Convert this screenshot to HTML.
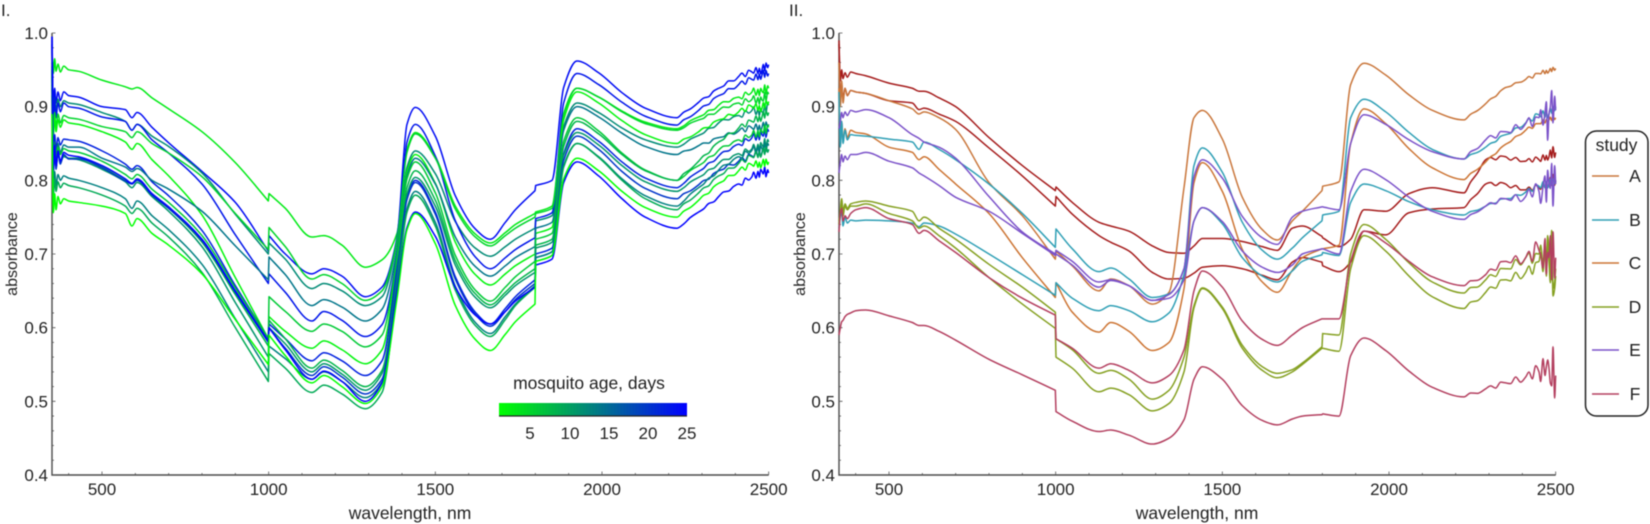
<!DOCTYPE html>
<html lang="en">
<head>
<meta charset="utf-8">
<title>Absorbance spectra by mosquito age and study</title>
<style>
html,body{margin:0;padding:0;background:#fff;}
body{width:1650px;height:524px;overflow:hidden;}
#figure{display:block;filter:blur(0.45px);}
text{font-family:"Liberation Sans",sans-serif;font-size:17px;fill:#222;}
.title{font-size:17.5px;}
.ytitle{font-size:16px;}
</style>
</head>
<body>
<svg id="figure" xmlns="http://www.w3.org/2000/svg" width="1650" height="524" viewBox="0 0 1650 524">
  <defs>
    <linearGradient id="ageGradient" x1="0" y1="0" x2="1" y2="0">
      <stop offset="0" stop-color="#00ff00"/>
      <stop offset="1" stop-color="#0000ff"/>
    </linearGradient>
  </defs>
  <text x="1" y="16">I.</text>
  <text x="789" y="16">II.</text>
  <g id="panelOne"></g>
  <g id="panelTwo"></g>
  <text class="ytitle" transform="translate(17,254) rotate(-90)" text-anchor="middle">absorbance</text>
  <text class="ytitle" transform="translate(805,254) rotate(-90)" text-anchor="middle">absorbance</text>
  <text class="title" x="410" y="519" text-anchor="middle">wavelength, nm</text>
  <text class="title" x="1197" y="519" text-anchor="middle">wavelength, nm</text>
  <g>
    <text class="title" x="589" y="389" text-anchor="middle">mosquito age, days</text>
    <rect x="499" y="403" width="188" height="13" fill="url(#ageGradient)"/>
    <line x1="499" y1="416" x2="687" y2="416" stroke="#222" stroke-width="1.2"/>
    <text x="530" y="439" text-anchor="middle">5</text>
    <text x="570" y="439" text-anchor="middle">10</text>
    <text x="609" y="439" text-anchor="middle">15</text>
    <text x="648" y="439" text-anchor="middle">20</text>
    <text x="687" y="439" text-anchor="middle">25</text>
  </g>
  <g>
    <rect x="1585.5" y="131" width="62.5" height="285" rx="11" ry="11" fill="#fff" stroke="#222" stroke-width="1.5"/>
    <text class="title" x="1616.5" y="151" text-anchor="middle">study</text>
    <line x1="1592" y1="176" x2="1619" y2="176" stroke="#c9763b" stroke-width="1.4"/>
    <text class="title" x="1635" y="182" text-anchor="middle">A</text>
    <line x1="1592" y1="220" x2="1619" y2="220" stroke="#2f9fb5" stroke-width="1.4"/>
    <text class="title" x="1635" y="226" text-anchor="middle">B</text>
    <line x1="1592" y1="263" x2="1619" y2="263" stroke="#cc7433" stroke-width="1.4"/>
    <text class="title" x="1635" y="269" text-anchor="middle">C</text>
    <line x1="1592" y1="307" x2="1619" y2="307" stroke="#85a021" stroke-width="1.4"/>
    <text class="title" x="1635" y="313" text-anchor="middle">D</text>
    <line x1="1592" y1="350" x2="1619" y2="350" stroke="#7b52c9" stroke-width="1.4"/>
    <text class="title" x="1635" y="356" text-anchor="middle">E</text>
    <line x1="1592" y1="394" x2="1619" y2="394" stroke="#b33f5f" stroke-width="1.4"/>
    <text class="title" x="1635" y="400" text-anchor="middle">F</text>
  </g>
</svg>
<script>
// Axis categories and tick labels
const wavelengths = [350,354,358,362,368,375,385,400, 430,500,570,590,605,650,700,800,900,999, 1001,1050,1130,1165,1220,1290,1340,1385,1415,1440, 1500,1560,1620,1665,1710,1740,1799,1801,1850,1885, 1925,1990,2060,2130,2225,2290,2350,2410,2450,2480,2500];
const tailWavelengths = [2245,2265,2305,2320,2335,2365,2380,2395,2420,2430,2440,2455,2462,2468,2472,2476,2484,2488,2492,2497];
const xTickLabels = [500,1000,1500,2000,2500];
const yTickLabels = ["0.4","0.5","0.6","0.7","0.8","0.9","1.0"];

// Panel I: absorbance x 1000 at each wavelength
const ageSpectrum1 = [975,945,965,948,958,947,955,950, 948,936,927,924,926,912,897,866,824,772, 782,762,723,725,712,682,692,728,842,865, 832,765,727,715,729,740,755,757,765,891, 925,913,894,879,870,886,902,913,920,921,925];
const ageSpectrum2 = [995,900,925,905,920,908,920,915, 913,900,896,885,892,872,851,812,770,704, 725,700,673,680,670,642,655,722,876,899, 860,779,734,720,743,760,786,793,800,926, 962,946,919,898,885,906,925,941,947,950,957];
const ageSpectrum3 = [960,890,912,895,910,900,908,905, 903,892,880,868,876,860,846,810,754,700, 715,693,653,660,650,630,642,715,818,840, 809,744,708,697,710,720,735,745,752,873, 905,892,871,855,845,861,878,888,895,893,902];
const ageSpectrum4 = [985,880,912,885,905,893,905,900, 898,886,880,868,876,855,837,795,726,660, 673,648,609,622,610,588,604,700,852,876, 833,745,696,680,695,706,722,748,756,905, 945,930,906,887,875,895,915,930,937,943,945];
const ageSpectrum5 = [940,868,892,872,890,878,888,885, 883,873,866,858,866,850,837,805,755,706, 736,710,666,672,660,637,650,718,838,863, 830,761,723,711,725,735,750,755,762,889, 925,913,893,877,868,882,895,905,910,909,917];
const ageSpectrum6 = [930,862,886,866,882,872,882,878, 876,866,852,842,850,828,806,753,668,585, 615,595,572,582,570,551,570,690,812,835, 796,716,672,658,673,684,700,728,736,882, 920,905,881,862,850,866,882,893,900,898,907];
const ageSpectrum7 = [985,838,862,842,858,848,856,855, 853,840,822,815,820,798,779,732,657,585, 605,585,555,566,555,535,555,680,778,800, 757,669,621,605,626,642,665,700,708,836, 870,853,825,803,790,812,833,849,858,862,866];
const ageSpectrum8 = [955,825,852,832,850,838,848,845, 845,830,818,812,816,800,788,758,711,665, 696,672,630,638,628,609,625,705,806,830, 795,723,683,670,684,695,710,735,743,868, 900,886,864,846,835,847,858,867,871,872,876];
const ageSpectrum9 = [950,822,848,828,845,835,843,840, 838,826,808,802,808,788,770,725,654,585, 642,622,595,605,595,574,590,695,802,825, 783,698,651,636,655,669,690,720,728,853, 885,867,837,814,800,820,841,855,862,866,872];
const ageSpectrum10 = [945,812,838,818,835,825,833,830, 830,818,800,796,800,780,762,716,645,575, 610,585,545,556,542,520,542,670,790,813, 773,691,646,631,648,661,680,712,720,846, 880,863,835,813,800,826,852,871,880,886,892];
const ageSpectrum11 = [950,815,840,818,835,825,832,830, 828,815,798,790,797,778,758,710,634,560, 600,578,540,551,537,515,538,668,781,804, 765,685,641,627,644,657,675,708,716,834, 865,848,820,798,785,804,823,836,843,848,852];
const ageSpectrum12 = [990,810,842,815,838,822,835,829, 829,817,799,795,800,780,762,718,648,580, 600,572,535,547,533,510,530,665,774,797, 754,666,618,602,622,638,660,695,703,827, 860,842,812,789,775,794,813,826,833,838,842];
const ageSpectrum13 = [925,790,812,793,808,800,806,803, 800,790,775,762,772,752,733,686,612,540, 575,558,530,540,527,505,526,660,762,785, 743,656,607,592,615,632,657,695,703,820, 850,832,802,779,765,790,814,832,841,843,847];
const ageSpectrum14 = [915,780,802,785,798,790,796,793, 790,780,765,755,762,742,723,675,600,527, 565,545,512,522,510,490,512,655,757,780, 738,651,603,588,611,630,655,690,698,818, 850,831,800,775,760,783,806,823,832,837,842];
const ageSpectrum15 = [995,815,848,820,840,826,838,834, 832,820,802,796,802,782,764,720,650,582, 600,570,530,541,527,500,525,650,736,757, 724,655,617,605,622,636,655,685,693,797, 825,806,775,750,735,757,778,795,805,812,810];
const ageSpectrum16 = [890,756,782,760,778,768,775,772, 770,765,755,738,748,728,712,673,611,550, 590,562,525,535,520,497,520,640,733,755, 714,630,584,569,591,608,632,690,698,802, 830,813,785,763,750,773,796,813,821,822,825];
const panelOneAges = [3,24,12,23,5,2,22,14,6,8,11,20,13,9,25,1];

// Panel I: fine scatter at the long-wavelength end (x 1000)
const ageTailNoiseA = [1,-1,1,-2,1,-1,2,-2,3,-3,4,-2,5,-4,3,-5,6,-4,5,-3];
const ageTailNoiseB = [-1,1,-1,1,-2,2,-1,1,-4,3,-2,5,-5,3,-6,4,-3,7,-6,4];

// Panel II: absorbance x 1000 at each wavelength
const studySpectrumA1 = [960,900,935,905,925,915,922,920, 918,908,897,890,893,885,869,797,752,693, 704,684,650,666,657,632,648,790,885,895, 856,777,733,719,745,758,786,792,798,930, 959,943,916,895,882,904,926,937,945,948,952];
const studySpectrumC1 = [925,848,880,852,870,858,868,865, 863,845,838,828,832,815,795,755,695,641, 661,621,594,607,595,569,580,653,797,824, 785,706,662,648,678,695,707,707,712,850, 897,877,843,817,801,825,849,868,877,882,885];
const studySpectrumB1 = [920,845,880,850,868,855,862,861, 860,856,852,842,852,842,828,795,755,709, 734,707,676,681,666,641,646,680,820,844, 811,743,705,693,708,722,745,753,758,885, 910,893,865,842,829,845,862,878,889,890,900];
const studySpectrumB2 = [735,750,758,738,750,742,746,745, 746,745,742,737,742,738,727,700,672,644, 661,640,623,630,623,608,620,672,745,763, 741,695,670,662,677,690,699,702,698,770, 795,786,771,760,753,765,775,784,792,795,800];
const studySpectrumE1 = [870,880,892,885,893,888,895,893, 896,885,862,857,852,845,830,778,730,700, 705,690,662,665,657,637,645,680,805,828, 803,751,722,713,750,758,764,764,760,850, 889,876,855,839,829,855,866,877,885,890,895];
const studySpectrumE2 = [810,825,835,825,833,828,835,835, 838,826,817,810,806,793,777,758,728,698, 700,685,655,664,657,637,640,665,745,763, 744,704,682,675,685,700,707,707,700,785, 815,801,777,758,747,765,775,778,785,795,795];
const studySpectrumD1 = [740,760,775,758,768,762,768,770, 772,765,758,745,750,735,720,686,655,621, 585,570,538,542,530,503,515,560,630,654, 628,576,547,538,543,552,574,592,590,700, 740,720,688,662,647,665,680,695,700,700,680];
const studySpectrumD2 = [745,755,770,752,765,760,765,765, 768,755,745,735,738,725,708,668,632,599, 560,545,513,518,509,487,497,540,627,653, 626,572,542,532,540,550,572,572,568,680, 725,704,670,642,626,648,665,675,690,690,670];
const studySpectrumF1 = [730,755,762,745,752,748,755,760, 763,748,740,728,732,718,702,668,640,617, 585,572,545,551,542,525,535,570,650,677, 655,609,584,576,590,600,612,612,612,690, 731,715,690,669,657,672,690,695,705,695,695];
const studySpectrumF2 = [590,600,608,610,615,618,620,623, 624,616,607,603,603,595,583,557,536,515, 486,473,459,461,454,442,450,475,530,547, 530,494,474,468,476,480,482,483,480,562, 586,569,541,519,506,517,525,533,540,545,535];
const studySpectrumR1 = [985,935,950,938,946,940,947,945, 942,932,925,921,921,912,900,858,820,786, 791,770,743,738,731,711,702,701,711,721, 721,717,710,705,735,738,724,722,710,720, 760,758,782,790,783,828,832,826,828,832,838];
const studySpectrumR2 = [990,905,930,910,925,915,922,920, 918,908,905,896,898,890,880,844,806,765, 778,754,725,716,704,675,666,667,674,682, 684,680,671,665,689,695,689,684,676,689, 731,726,756,761,763,795,795,787,790,795,800];

// Panel II: scatter at the long-wavelength end (x 1000)
const tailNoiseQuiet = [1,-1,1,-1,1,-1,1,-1,2,-2,2,-1,3,-2,2,-2,3,-2,3,-2];
const tailNoiseTeal = [1,-1,1,-1,2,-2,1,-2,3,-3,4,-3,5,-4,4,-5,6,-3,4,-4];
const tailNoiseRed = [1,-1,2,-2,2,-3,2,-2,3,-2,4,-3,5,-3,3,-4,8,-4,10,-6];
const tailNoiseE1 = [2,-2,3,-3,3,-4,4,-5,6,-8,3,10,-12,4,18,-35,9,30,-15,20];
const tailNoiseE2 = [1,-1,2,-2,3,-3,4,-6,8,-4,12,-18,2,15,-22,20,-6,28,-30,25];
const tailNoiseD = [2,-3,3,-3,4,-4,5,-6,5,-10,2,12,-14,16,-20,25,-25,40,-35,-20];
const tailNoiseF1 = [2,-2,3,-3,4,-3,5,-7,6,-10,14,-4,-20,22,-25,6,30,-30,35,-28];
const tailNoiseF2 = [2,-2,2,-3,3,-3,4,-5,5,-6,10,-14,16,-8,3,12,-18,-20,35,-32];

const panelOneSpectra = [ageSpectrum1,ageSpectrum2,ageSpectrum3,ageSpectrum4,ageSpectrum5,ageSpectrum6,ageSpectrum7,ageSpectrum8,ageSpectrum9,ageSpectrum10,ageSpectrum11,ageSpectrum12,ageSpectrum13,ageSpectrum14,ageSpectrum15,ageSpectrum16];
const panelTwoSpectra = [studySpectrumR1,studySpectrumR2,studySpectrumA1,studySpectrumC1,studySpectrumB1,studySpectrumB2,studySpectrumE1,studySpectrumE2,studySpectrumD1,studySpectrumD2,studySpectrumF1,studySpectrumF2];
const panelTwoStudies = ["R","R","A","C","B","B","E","E","D","D","F","F"];
const panelTwoNoise = [tailNoiseRed,tailNoiseRed,tailNoiseQuiet,tailNoiseQuiet,tailNoiseTeal,tailNoiseTeal,tailNoiseE1,tailNoiseE2,tailNoiseD,tailNoiseD,tailNoiseF1,tailNoiseF2];

const SVG_NS = "http://www.w3.org/2000/svg";
const studyColors = {A:"#c9763b",B:"#2f9fb5",C:"#cc7433",D:"#85a021",E:"#7b52c9",F:"#b33f5f",R:"#a51c1c"};
const PLOT_TOP = 33, PLOT_BOTTOM = 475, X_SCALE = 1/3;

function xAt(originX, nm){ return originX + (nm - 350) * X_SCALE; }
function yAt(value){ return PLOT_BOTTOM - (value - 0.4) / 0.6 * (PLOT_BOTTOM - PLOT_TOP); }

function ageColor(age){
  const t = (age - 1) / 24;
  return "rgb(0," + Math.round(255 * (1 - t)) + "," + Math.round(255 * t) + ")";
}

function baseAt(values, nm){
  for(let i = 0; i < wavelengths.length - 1; i++){
    if(nm >= wavelengths[i] && nm <= wavelengths[i + 1]){
      const f = (nm - wavelengths[i]) / (wavelengths[i + 1] - wavelengths[i]);
      return values[i] + (values[i + 1] - values[i]) * f;
    }
  }
  return values[values.length - 1];
}

function seriesPoints(values, noise){
  const points = wavelengths.map(function(nm, i){ return {nm: nm, v: values[i]}; });
  tailWavelengths.forEach(function(nm, i){ points.push({nm: nm, v: baseAt(values, nm) + noise[i]}); });
  points.sort(function(a, b){ return a.nm - b.nm; });
  return points;
}

function curvePiece(xy){
  const n = xy.length, d = [], m = [];
  for(let i = 0; i < n - 1; i++){ d.push((xy[i + 1][1] - xy[i][1]) / (xy[i + 1][0] - xy[i][0])); }
  for(let i = 0; i < n; i++){
    if(i === 0){ m.push(d[0]); }
    else if(i === n - 1){ m.push(d[n - 2]); }
    else if(d[i - 1] * d[i] <= 0){ m.push(0); }
    else { m.push(2 * d[i - 1] * d[i] / (d[i - 1] + d[i])); }
  }
  let path = "";
  for(let i = 0; i < n - 1; i++){
    const h = (xy[i + 1][0] - xy[i][0]) / 3;
    path += " C" + (xy[i][0] + h).toFixed(2) + " " + (xy[i][1] + m[i] * h).toFixed(2) + " " + (xy[i + 1][0] - h).toFixed(2) + " " + (xy[i + 1][1] - m[i + 1] * h).toFixed(2) + " " + xy[i + 1][0].toFixed(2) + " " + xy[i + 1][1].toFixed(2);
  }
  return path;
}

function spectrumPath(originX, values, noise){
  const points = seriesPoints(values, noise);
  const pieces = [[]];
  points.forEach(function(p, i){
    if(i > 0 && p.nm - points[i - 1].nm <= 2){ pieces.push([]); }
    pieces[pieces.length - 1].push([xAt(originX, p.nm), yAt(p.v / 1000)]);
  });
  let path = "";
  pieces.forEach(function(piece, i){
    path += (i === 0 ? "M" : " L") + piece[0][0].toFixed(2) + " " + piece[0][1].toFixed(2);
    path += curvePiece(piece);
  });
  return path;
}

function drawAxes(group, originX){
  const frame = document.createElementNS(SVG_NS, "path");
  
  
  frame.setAttribute("d", "M" + originX + " " + PLOT_TOP + " L" + originX + " " + PLOT_BOTTOM + " L" + xAt(originX, 2500) + " " + PLOT_BOTTOM);
  frame.setAttribute("fill", "none");
  frame.setAttribute("stroke", "#4a4a4a");
  frame.setAttribute("stroke-width", "1.4");
  group.appendChild(frame);
  let ticks = "";
  for(let nm = 400; nm <= 2500; nm += 100){
    const len = nm % 500 === 0 ? 3.5 : 2;
    ticks += "M" + xAt(originX, nm) + " " + PLOT_BOTTOM + " v" + (-len) + " ";
  }
  for(let k = 0; k <= 30; k++){
    const len = k % 5 === 0 ? 3.5 : 2;
    ticks += "M" + originX + " " + yAt(0.4 + k * 0.02).toFixed(2) + " h" + len + " ";
  }
  const tickPath = document.createElementNS(SVG_NS, "path");
  
  
  tickPath.setAttribute("d", ticks);
  tickPath.setAttribute("stroke", "#555");
  tickPath.setAttribute("stroke-width", "0.8");
  group.appendChild(tickPath);
  xTickLabels.forEach(function(label){
    const t = document.createElementNS(SVG_NS, "text");
    
    
    t.setAttribute("x", xAt(originX, label));
    t.setAttribute("y", 495);
    t.setAttribute("text-anchor", "middle");
    t.textContent = label;
    group.appendChild(t);
  });
  yTickLabels.forEach(function(label){
    const t = document.createElementNS(SVG_NS, "text");
    
    
    t.setAttribute("x", originX - 4);
    t.setAttribute("y", yAt(parseFloat(label)) + 6);
    t.setAttribute("text-anchor", "end");
    t.textContent = label;
    group.appendChild(t);
  });
}

function drawSpectrum(group, originX, values, noise, color){
  const line = document.createElementNS(SVG_NS, "path");
  
  
  line.setAttribute("d", spectrumPath(originX, values, noise));
  line.setAttribute("fill", "none");
  line.setAttribute("stroke", color);
  line.setAttribute("stroke-width", "1.5");
  line.setAttribute("stroke-linejoin", "round");
  group.appendChild(line);
}

const panelOneGroup = document.getElementById("panelOne");
const panelTwoGroup = document.getElementById("panelTwo");
drawAxes(panelOneGroup, 52);
drawAxes(panelTwoGroup, 839);
panelOneSpectra.forEach(function(values, i){
  drawSpectrum(panelOneGroup, 52, values, i % 2 ? ageTailNoiseA : ageTailNoiseB, ageColor(panelOneAges[i]));
});
panelTwoSpectra.forEach(function(values, i){
  drawSpectrum(panelTwoGroup, 839, values, panelTwoNoise[i], studyColors[panelTwoStudies[i]]);
});
</script>
</body>
</html>
